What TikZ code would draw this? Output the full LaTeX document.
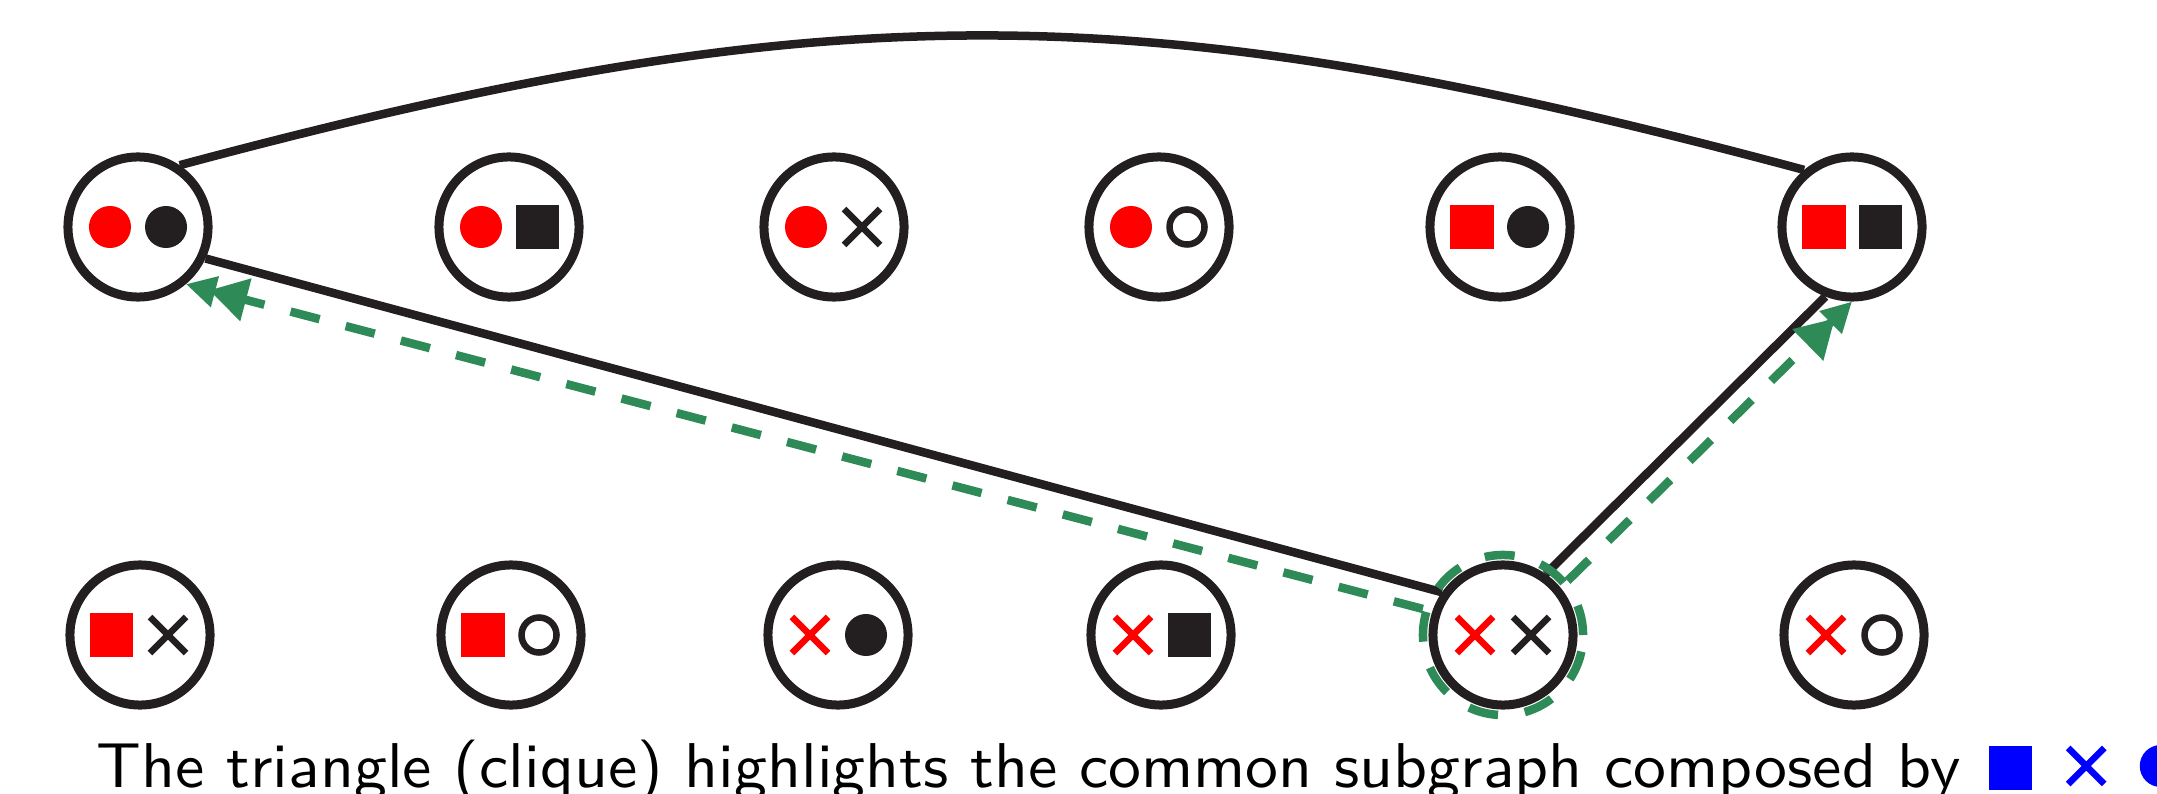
\documentclass[tikz,border=0pt]{standalone}
\usepackage{fontspec}
\usetikzlibrary{arrows.meta}
\definecolor{ink}{RGB}{35,31,32}
\definecolor{hlgreen}{RGB}{46,139,87}
\definecolor{capblue}{RGB}{0,0,255}

\tikzset{
  vertex/.style={circle, draw=ink, line width=0.09cm, minimum size=1.4cm, inner sep=0pt},
  edge/.style={draw=ink, line width=0.085cm},
  hldash/.style={draw=hlgreen, line width=0.085cm, dash pattern=on 0.3cm off 0.27cm},
  hlring/.style={circle, hldash, minimum size=1.6cm, inner sep=0pt},
  hlarrow/.style={hldash, -{Triangle[length=0.38cm,width=0.42cm,sep=-0.06cm] Triangle[length=0.30cm,width=0.30cm]}},
  pics/dotsym/.style={code={\fill[#1] (0,0) circle[radius=0.21cm];}},
  pics/sqsym/.style={code={\fill[#1] (-0.215cm,-0.215cm) rectangle (0.215cm,0.215cm);}},
  pics/crosssym/.style={code={\draw[#1,line width=0.065cm] (-0.18cm,-0.18cm) -- (0.18cm,0.18cm) (-0.18cm,0.18cm) -- (0.18cm,-0.18cm);}},
  pics/ringsym/.style={code={\draw[#1,line width=0.065cm] (0,0) circle[radius=0.175cm];}},
}

% two symbols inside a vertex: red one on the left, dark one on the right
\newcommand\vtxpair[3]{%
  \pic at ([xshift=-0.28cm]#1.center) {#2=red};
  \pic at ([xshift=0.28cm]#1.center) {#3=ink};
}

\begin{document}
\begin{tikzpicture}[x=0.01cm,y=-0.01cm]
\useasboundingbox (0,0) rectangle (2157,794);

% vertices, top row
\node[vertex] (T1) at (138,227) {};
\node[vertex] (T2) at (509,227) {};
\node[vertex] (T3) at (834,227) {};
\node[vertex] (T4) at (1159,227) {};
\node[vertex] (T5) at (1500,227) {};
\node[vertex] (T6) at (1852,227) {};
% vertices, bottom row
\node[vertex] (B1) at (140,635) {};
\node[vertex] (B2) at (511,635) {};
\node[vertex] (B3) at (838,635) {};
\node[vertex] (B4) at (1161,635) {};
\node[vertex] (B5) at (1503,635) {};
\node[vertex] (B6) at (1854,635) {};

\vtxpair{T1}{dotsym}{dotsym}
\vtxpair{T2}{dotsym}{sqsym}
\vtxpair{T3}{dotsym}{crosssym}
\vtxpair{T4}{dotsym}{ringsym}
\vtxpair{T5}{sqsym}{dotsym}
\vtxpair{T6}{sqsym}{sqsym}
\vtxpair{B1}{sqsym}{crosssym}
\vtxpair{B2}{sqsym}{ringsym}
\vtxpair{B3}{crosssym}{dotsym}
\vtxpair{B4}{crosssym}{sqsym}
\vtxpair{B5}{crosssym}{crosssym}
\vtxpair{B6}{crosssym}{ringsym}

% the triangle
\draw[edge] (T1.56) to[out=15,in=165,looseness=1.07] (T6.130);
\draw[edge] (T1.-25) -- (B5.145);
\draw[edge] (B5.55) -- (T6.249);

% highlighted vertex and its links
\node[hlring] (hl) at (B5.center) {};
\draw[hlarrow] (hl.162) -- (T1.-50);
\draw[hlarrow] (hl.40) -- (T6.-90);

% caption
\node[anchor=base west, inner sep=0pt] (cap) at (96,787)
  {\scalebox{1.87}[1.8]{\fontsize{10}{12}\selectfont\sffamily The triangle (clique) highlights the common subgraph composed by}};
\pic at ([xshift=0.49cm,yshift=0.19cm]cap.base east) {sqsym=capblue};
\pic at ([xshift=1.25cm,yshift=0.21cm]cap.base east) {crosssym=capblue};
\pic at ([xshift=1.995cm,yshift=0.21cm]cap.base east) {dotsym=capblue};
\end{tikzpicture}
\end{document}
